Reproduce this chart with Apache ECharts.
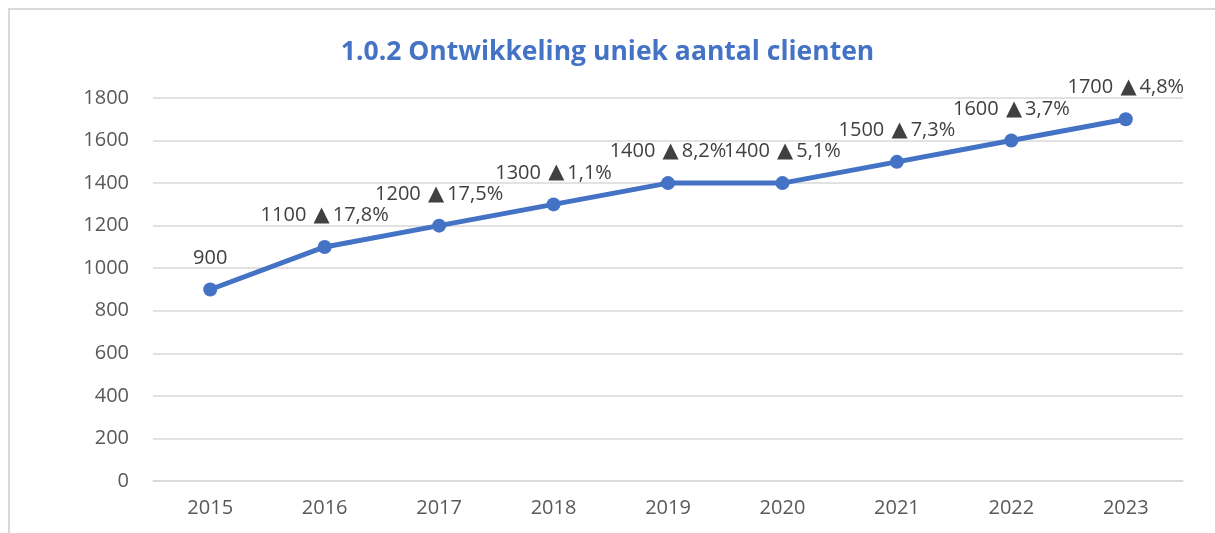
<!DOCTYPE html>
<html>
<head>
<meta charset="utf-8">
<script src="https://cdn.jsdelivr.net/npm/echarts@6/dist/echarts.min.js"></script>
<style>
  html, body { margin: 0; padding: 0; background: #fff; }
  #chart { width: 1215px; height: 533px; }
</style>
</head>
<body>
<div id="chart"></div>
<script>
const years = ['2015', '2016', '2017', '2018', '2019', '2020', '2021', '2022', '2023'];
const clients = [900, 1100, 1200, 1300, 1400, 1400, 1500, 1600, 1700];
// groei t.o.v. vorig jaar, zoals in de bron vermeld
const growth = [null, '17,8%', '17,5%', '1,1%', '8,2%', '5,1%', '7,3%', '3,7%', '4,8%'];

const chart = echarts.init(document.getElementById('chart'));
const font = 'Open Sans';

chart.setOption({
    animation: false,
    title: {
        text: '1.0.2 Ontwikkeling uniek aantal clienten',
        left: 'center',
        top: 34,
        textStyle: { fontFamily: font, fontSize: 26.5, fontWeight: 'bold', color: '#4472C4' }
    },
    graphic: [{
        type: 'rect',
        shape: { x: 9, y: 9, width: 1300, height: 600 },
        style: { fill: 'none', stroke: '#d9d9d9', lineWidth: 2 },
        silent: true
    }],
    grid: { left: 153, right: 32, top: 98, bottom: 52 },
    xAxis: {
        type: 'category',
        data: years,
        boundaryGap: true,
        axisLine: { show: true, lineStyle: { color: '#d9d9d9', width: 1.5 } },
        axisTick: { show: false },
        axisLabel: { fontFamily: font, fontSize: 20, color: '#595959', margin: 17 }
    },
    yAxis: {
        type: 'value',
        min: 0,
        max: 1800,
        interval: 200,
        axisLine: { show: false },
        axisTick: { show: false },
        axisLabel: { fontFamily: font, fontSize: 20, color: '#595959', margin: 24, formatter: v => String(v) },
        splitLine: { lineStyle: { color: '#d9d9d9', width: 1.5 } }
    },
    series: [{
        type: 'line',
        data: clients,
        symbol: 'circle',
        symbolSize: 14,
        lineStyle: { color: '#4472C4', width: 5 },
        itemStyle: { color: '#4472C4' },
        label: {
            show: true,
            position: 'top',
            distance: 14,
            fontFamily: font,
            fontSize: 20,
            color: '#404040',
            formatter: p => growth[p.dataIndex] ? p.value + ' {tri|\u25B2}' + growth[p.dataIndex] : String(p.value),
            rich: {
                tri: { fontFamily: 'DejaVu Sans', fontSize: 21, color: '#404040', padding: [0, 3, 0, 2] }
            }
        }
    }]
});
</script>
</body>
</html>
